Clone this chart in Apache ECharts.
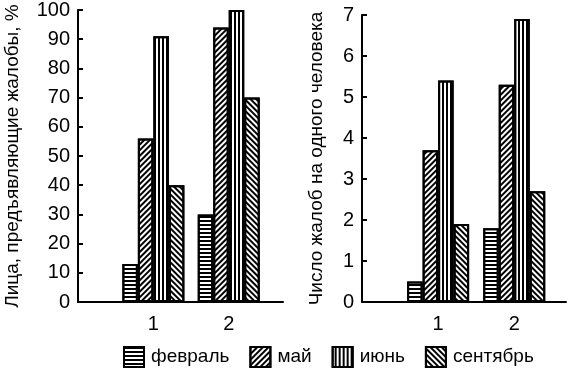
<!DOCTYPE html>
<html><head><meta charset="utf-8">
<script src="https://cdn.jsdelivr.net/npm/echarts@6/dist/echarts.min.js"></script>
<style>html,body{margin:0;padding:0;background:#fff}#c{width:569px;height:368px}</style>
</head><body><div id="c"></div>
<script>
var groups = [1, 2];
var seriesNames = ['февраль', 'май', 'июнь', 'сентябрь'];
// Лица, предъявляющие жалобы, %
var pctFeb = [13, 30];
var pctMay = [56, 94];
var pctJun = [91, 100];
var pctSep = [40, 70];
// Число жалоб на одного человека
var cntFeb = [0.5, 1.8];
var cntMay = [3.7, 5.3];
var cntJun = [5.4, 6.9];
var cntSep = [1.9, 2.7];
var leftTitle = 'Лица, предъявляющие жалобы, %';
var rightTitle = 'Число жалоб на одного человека';

var FONT = 'Liberation Sans, Arial, sans-serif';
var decals = [
  {symbol:'rect', symbolSize:1, dashArrayX:[1,0], dashArrayY:[2,1.5], rotation:0, color:'#000'},
  {symbol:'rect', symbolSize:1, dashArrayX:[1,0], dashArrayY:[1.6,1.6], rotation:-Math.PI/4, color:'#000'},
  {symbol:'rect', symbolSize:1, dashArrayX:[1,0], dashArrayY:[1.6,1.6], rotation:Math.PI/2, color:'#000'},
  {symbol:'rect', symbolSize:1, dashArrayX:[1,0], dashArrayY:[1.6,1.6], rotation:Math.PI/4, color:'#000'}
];
function pairs(vals){ return groups.map(function(g,i){ return [g, vals[i]]; }); }
var leftData = [pctFeb, pctMay, pctJun, pctSep];
var rightData = [cntFeb, cntMay, cntJun, cntSep];

function xAxis(gridIndex, max){
  return {type:'value', gridIndex:gridIndex, min:0, max:max, interval:1,
    splitLine:{show:false}, axisTick:{show:false},
    axisLine:{show:true, lineStyle:{color:'#000', width:2}},
    axisLabel:{color:'#000', fontFamily:FONT, fontSize:20, margin:12,
      formatter:function(v){ return (v===1||v===2)? String(v) : ''; }}};
}
function yAxis(gridIndex, max, interval, name, gap){
  return {type:'value', gridIndex:gridIndex, min:0, max:max, interval:interval,
    name:name, nameLocation:'middle', nameGap:gap,
    nameTextStyle:{color:'#000', fontFamily:FONT, fontSize:19},
    splitLine:{show:false},
    axisTick:{show:true, inside:true, length:5, lineStyle:{color:'#000', width:2}},
    axisLine:{show:true, lineStyle:{color:'#000', width:2}},
    axisLabel:{color:'#000', fontFamily:FONT, fontSize:20, margin:8}};
}
var series = [];
seriesNames.forEach(function(n, k){
  series.push({name:n, type:'bar', xAxisIndex:0, yAxisIndex:0, data:pairs(leftData[k]),
    barWidth:15.5, barGap:'0%',
    itemStyle:{color:'#fff', borderColor:'#000', borderWidth:2, decal:decals[k]}});
});
seriesNames.forEach(function(n, k){
  series.push({name:n, type:'bar', xAxisIndex:1, yAxisIndex:1, data:pairs(rightData[k]),
    barWidth:15.5, barGap:'0%',
    itemStyle:{color:'#fff', borderColor:'#000', borderWidth:2, decal:decals[k]}});
});

var chart = echarts.init(document.getElementById('c'));
chart.setOption({
  animation:false,
  backgroundColor:'#fff',
  grid:[{left:78, right:286, top:6, bottom:66},
        {left:362, right:1, top:15, bottom:66}],
  xAxis:[xAxis(0, 2.72), xAxis(1, 2.68)],
  yAxis:[yAxis(0, 100, 10, leftTitle, 56), yAxis(1, 7, 1, rightTitle, 36)],
  legend:{data:seriesNames, left:118, top:341, itemWidth:20, itemHeight:20, itemGap:20,
    icon:'rect',
    textStyle:{color:'#000', fontFamily:FONT, fontSize:19, padding:[0,0,0,2]}},
  series:series
});
</script></body></html>
